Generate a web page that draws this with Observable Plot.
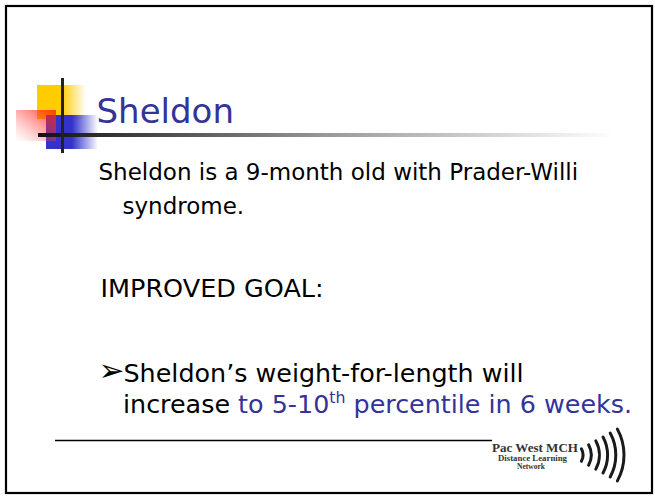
<!DOCTYPE html>
<html>
<head>
<meta charset="utf-8">
<script src="https://cdn.jsdelivr.net/npm/d3@7"></script>
<script src="https://cdn.jsdelivr.net/npm/@observablehq/plot@0.6"></script>
<style>
  html, body { margin: 0; padding: 0; background: #fff; }
  #chart svg { display: block; }
</style>
</head>
<body>
<div id="chart"></div>
<script>
// ---- content ----
const slideTitle = ["Sheldon"];
const introLines = ["Sheldon is a 9-month old with Prader-Willi", "syndrome."];
const goalHeading = ["IMPROVED GOAL:"];
const bulletMarker = ["\u27A2"];
const bulletLine1 = ["Sheldon\u2019s weight-for-length will"];
const bulletLine2 = [
  {text: "increase ", tone: "plain", sup: false},
  {text: "to 5-10", tone: "accent", sup: false},
  {text: "th", tone: "accent", sup: true},
  {text: " percentile in 6 weeks.", tone: "accent", sup: false}
];
const logoLines = ["Pac West MCH", "Distance Learning", "Network"];
const logoArcCount = [1, 2, 3, 4, 5, 6];

// ---- layout (slide coordinates) ----
const W = 655, H = 497;
const FONT = "'DejaVu Sans', sans-serif";
const SERIF = "'Liberation Serif', 'DejaVu Serif', serif";
const BLUE = "#333399";
const layout = {
  frame: {x1: 6, y1: 6, x2: 652, y2: 493},
  yellow: {x1: 37, y1: 85, x2: 86, y2: 119},
  blue: {x1: 46, y1: 115, x2: 98, y2: 149},
  red: {x1: 16, y1: 110, x2: 56, y2: 141},
  vline: {x: 62, y1: 78, y2: 153},
  hline: {x1: 38, x2: 615, y: 135},
  title: {x: 96, y: 122, size: 34},
  intro: [{x: 98, y: 179}, {x: 122, y: 213}],
  introSize: 23,
  goal: {x: 100, y: 296, size: 25.5},
  bullet: {x: 98, y: 380, size: 31},
  line1: {x: 123, y: 381},
  line2: {x: 123, y: 413},
  bulletSize: 25.4,
  rule: {x1: 55, x2: 492, y: 440},
  logo: [{x: 492, y: 452, size: 11.5, len: 86}, {x: 498, y: 461, size: 8, len: 69}, {x: 517, y: 469, size: 8, len: 28}],
  arcs: {cx: 570, cy: 455, r0: 13, step: 8.2, angle: 0.5}
};

const defs = () => {
  const d = d3.create("svg:defs");
  const lin = (id, stops, x2 = "100%", y2 = "0%", x1 = "0%", y1 = "0%") => {
    const g = d.append("linearGradient").attr("id", id)
      .attr("x1", x1).attr("y1", y1).attr("x2", x2).attr("y2", y2);
    for (const [o, c, a] of stops) g.append("stop").attr("offset", o).attr("stop-color", c).attr("stop-opacity", a);
  };
  lin("gYellow", [[0, "#FFCC00", 1], [0.5, "#FFCC00", 1], [1, "#FFCC00", 0]]);
  lin("gBlue", [[0, "#3333CC", 1], [0.5, "#3333CC", 1], [1, "#3333CC", 0]]);
  lin("gRed", [[0, "#FF2200", 0.85], [0.55, "#FF3333", 0.35], [1, "#FF6666", 0.0]], "0%", "100%", "100%", "0%");
  lin("gLine", [[0, "#111", 1], [0.5, "#999", 1], [1, "#fff", 1]]);
  return d.node();
};

const richLine = (index, scales) => {
  const sx = scales.x, sy = scales.y;
  const t = d3.create("svg:text")
    .attr("x", sx(layout.line2.x)).attr("y", sy(layout.line2.y))
    .attr("text-anchor", "start")
    .attr("font-family", FONT).attr("font-size", layout.bulletSize);
  bulletLine2.forEach((p, i) => {
    const ts = t.append("tspan").text(p.text).attr("fill", p.tone === "accent" ? BLUE : "#000");
    if (p.sup) ts.attr("font-size", layout.bulletSize * 0.62).attr("dy", `${-layout.bulletSize * 0.4}px`);
    else if (i > 0 && bulletLine2[i - 1].sup) ts.attr("dy", `${layout.bulletSize * 0.4}px`);
  });
  return t.node();
};

const logoText = (index, scales) => {
  const sx = scales.x, sy = scales.y;
  const g = d3.create("svg:g").attr("text-anchor", "start").attr("font-family", SERIF)
    .attr("font-weight", "bold").attr("fill", "#333");
  logoLines.forEach((s, i) => {
    const p = layout.logo[i];
    g.append("text").attr("x", sx(p.x)).attr("y", sy(p.y)).attr("font-size", p.size)
      .attr("textLength", p.len).attr("lengthAdjust", "spacingAndGlyphs").text(s);
  });
  return g.node();
};

const logoArcs = (index, scales) => {
  const sx = scales.x, sy = scales.y;
  const g = d3.create("svg:g").attr("fill", "none").attr("stroke", "#1a1a1a").attr("stroke-width", 3).attr("stroke-linecap", "round");
  const {cx, cy, r0, step, angle} = layout.arcs;
  for (const k of logoArcCount) {
    const r = r0 + (k - 1) * step;
    const p = d3.path();
    p.moveTo(sx(cx) + r * Math.cos(-angle), sy(cy) + r * Math.sin(-angle));
    p.arc(sx(cx), sy(cy), r, -angle, angle);
    g.append("path").attr("d", p.toString());
  }
  return g.node();
};

const text1 = (arr, pos, size, fill, family = FONT, extra = {}) =>
  Plot.text(arr, {x: () => pos.x, y: () => pos.y, text: d => d, fontSize: size, fill, fontFamily: family,
    textAnchor: "start", lineAnchor: "bottom", ...extra});

const chart = Plot.plot({
  width: W, height: H,
  margin: 0,
  x: {domain: [0, W], range: [0, W], axis: null},
  y: {domain: [0, H], range: [0, H], axis: null},
  marks: [
    defs,
    Plot.rect([layout.frame], {x1: "x1", x2: "x2", y1: "y1", y2: "y2", fill: "none", stroke: "#000", strokeWidth: 2.2}),
    Plot.rect([layout.yellow], {x1: "x1", x2: "x2", y1: "y1", y2: "y2", fill: "url(#gYellow)"}),
    Plot.rect([layout.blue], {x1: "x1", x2: "x2", y1: "y1", y2: "y2", fill: "url(#gBlue)"}),
    Plot.rect([layout.red], {x1: "x1", x2: "x2", y1: "y1", y2: "y2", fill: "url(#gRed)"}),
    Plot.rect([layout.hline], {x1: "x1", x2: "x2", y1: d => d.y - 2, y2: d => d.y + 2, fill: "url(#gLine)"}),
    Plot.ruleX([layout.vline], {x: "x", y1: "y1", y2: "y2", stroke: "#222", strokeWidth: 3}),
    text1(slideTitle, layout.title, layout.title.size, BLUE),
    Plot.text(introLines, {x: (d, i) => layout.intro[i].x, y: (d, i) => layout.intro[i].y, text: d => d,
      fontSize: layout.introSize, fill: "#000", fontFamily: FONT, textAnchor: "start", lineAnchor: "bottom"}),
    text1(goalHeading, layout.goal, layout.goal.size, "#000"),
    text1(bulletMarker, layout.bullet, layout.bullet.size, "#000"),
    text1(bulletLine1, layout.line1, layout.bulletSize, "#000"),
    richLine,
    Plot.ruleY([layout.rule], {y: "y", x1: "x1", x2: "x2", stroke: "#000", strokeWidth: 1.3}),
    logoText,
    logoArcs
  ]
});
document.getElementById("chart").append(chart);
</script>
</body>
</html>
